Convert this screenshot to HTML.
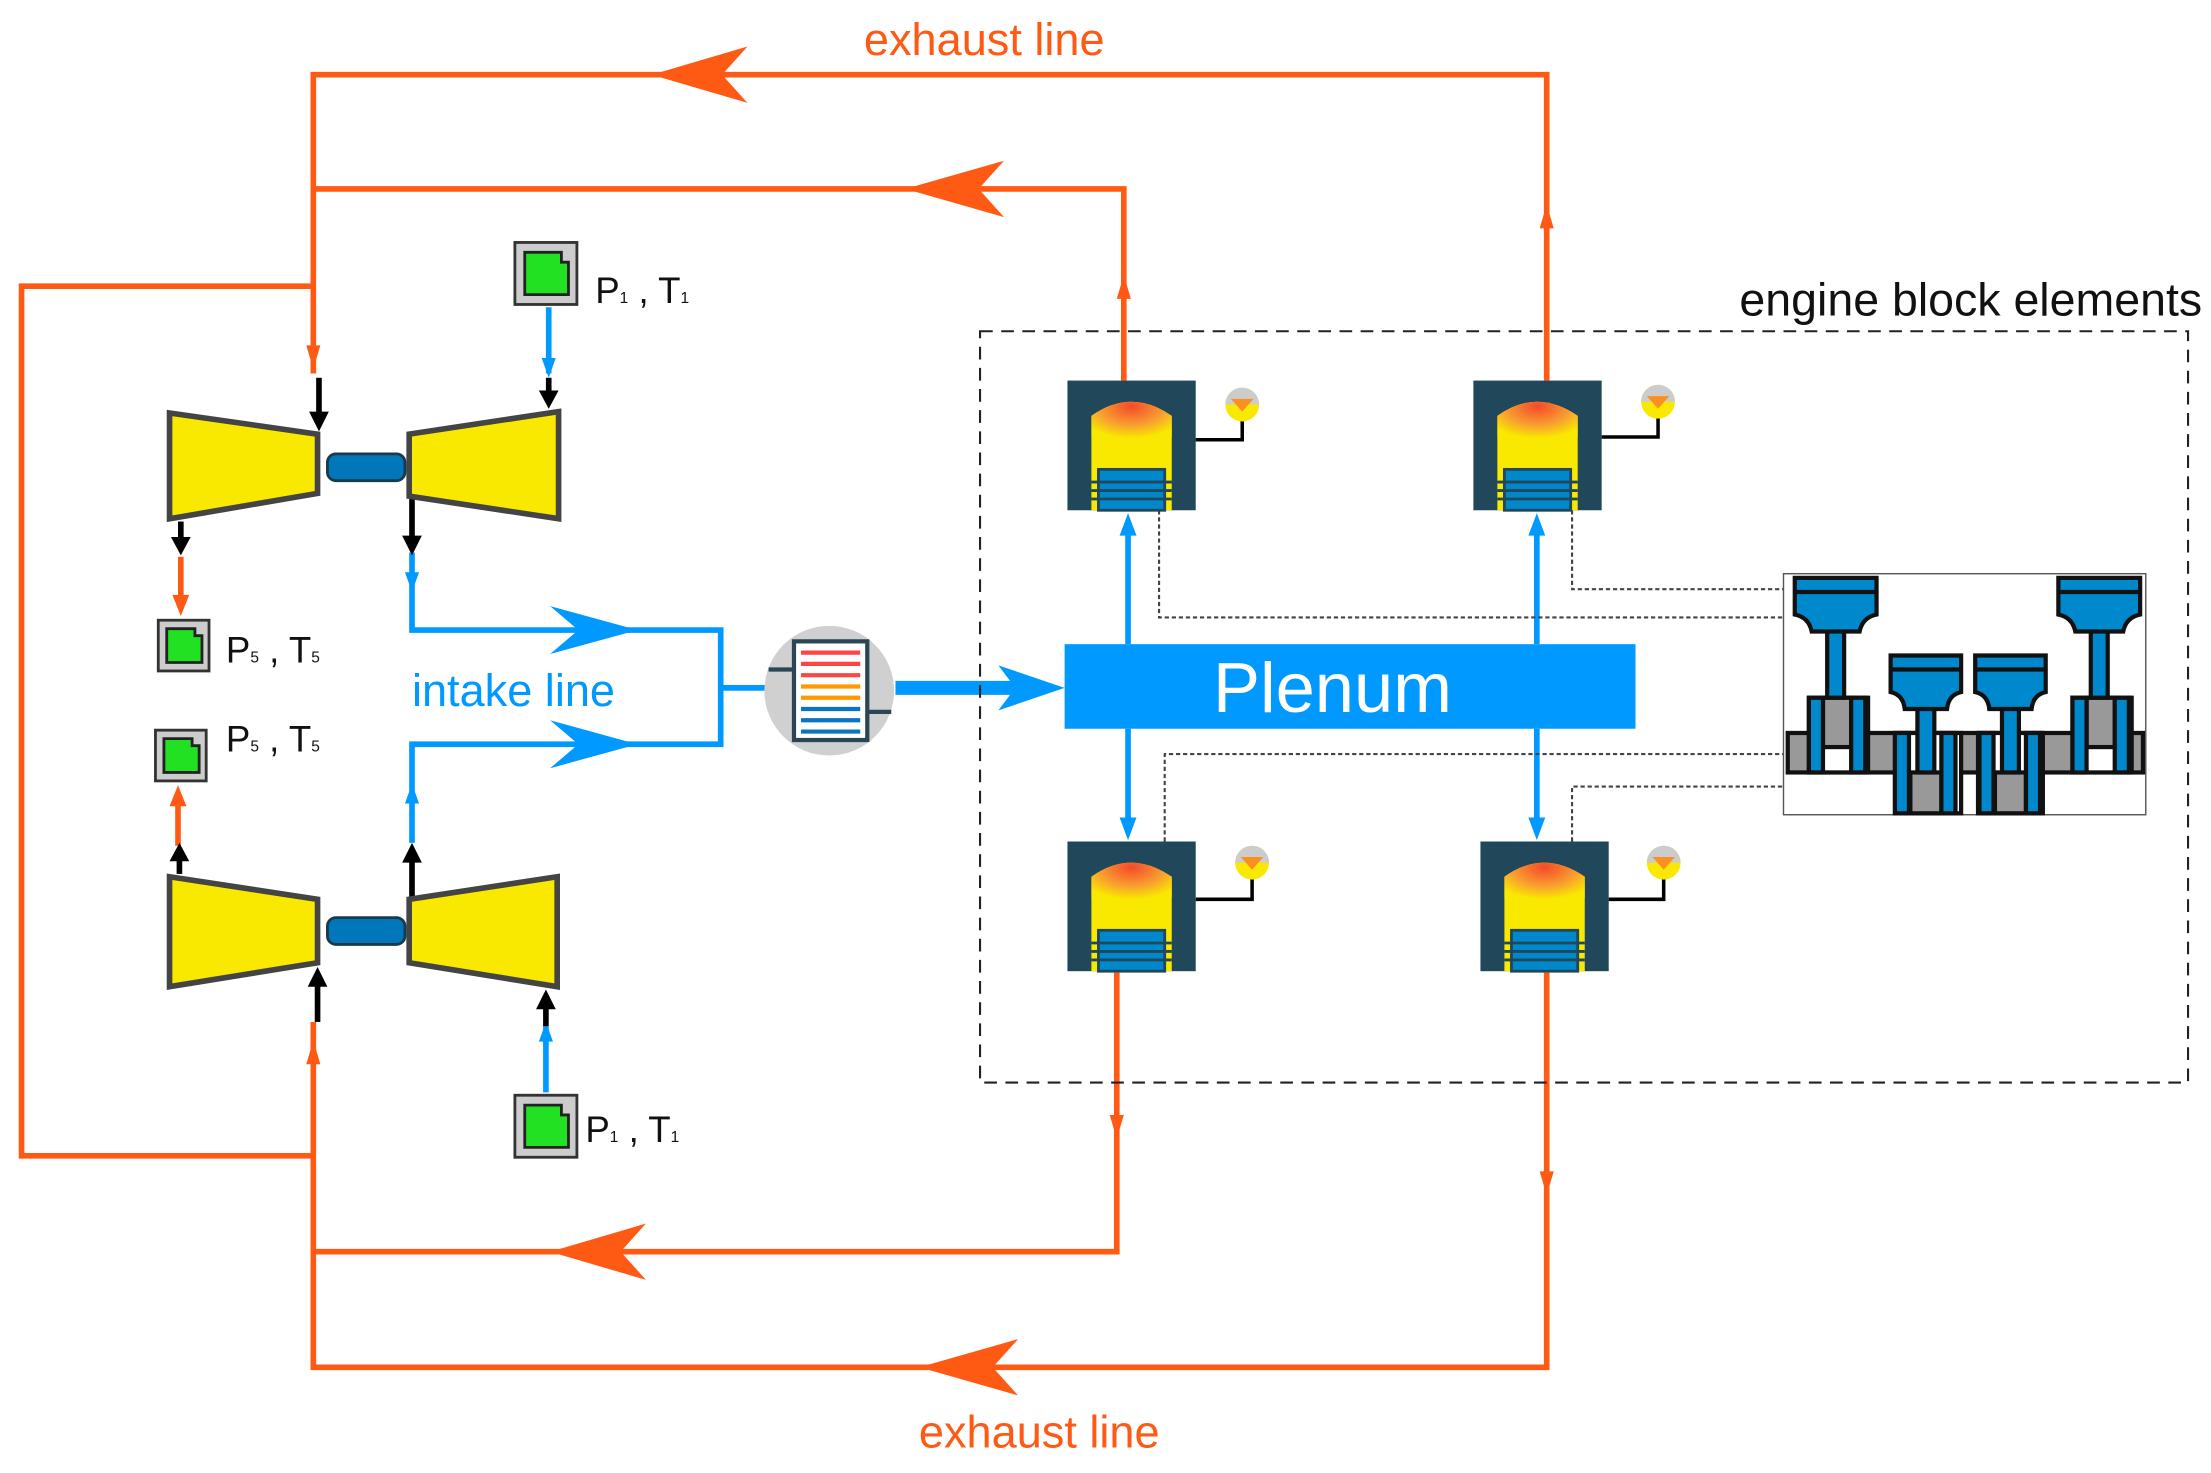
<!DOCTYPE html>
<html><head><meta charset="utf-8"><style>html,body{margin:0;padding:0;background:#fff}svg{display:block}</style></head><body>
<svg width="2211" height="1473" viewBox="0 0 1568 1045" xmlns="http://www.w3.org/2000/svg" font-family="Liberation Sans, sans-serif">
<defs>
<radialGradient id="fl" cx="0.5" cy="0.1" r="0.7"><stop offset="0" stop-color="#f44a2a"/><stop offset="0.6" stop-color="#f9a030"/><stop offset="1" stop-color="#f9e800"/></radialGradient>
<g id="cyl">
<rect x="0" y="0" width="91" height="92" fill="#21475a"/>
<path d="M17,25 Q45,5 74,25 L74,92 L17,92 Z" fill="#f9e800"/>
<path d="M17,25 Q45,5 74,25 L74,40 Q45,55 17,40 Z" fill="url(#fl)"/>
<rect x="22" y="63" width="47" height="29" fill="#0088cc" stroke="#21475a" stroke-width="2"/>
<line x1="17" y1="72" x2="74" y2="72" stroke="#21475a" stroke-width="2"/>
<line x1="17" y1="78" x2="74" y2="78" stroke="#21475a" stroke-width="2"/>
<line x1="17" y1="84" x2="74" y2="84" stroke="#21475a" stroke-width="2"/>
</g>
<g id="sens">
<circle cx="0" cy="0" r="12" fill="#f9e800"/>
<path d="M-12,0 A12,12 0 0 1 12,0 Z" fill="#ccc"/>
<path d="M-8,-4 L8,-4 L0,5 Z" fill="#f99020"/>
</g>
<g id="box">
<rect x="0" y="0" width="44" height="44" fill="#ccc" stroke="#333" stroke-width="2"/>
<path d="M7,7 L33,7 L33,14 L38,14 L38,37 L7,37 Z" fill="#22e022" stroke="#222" stroke-width="2"/>
</g>
<g id="sbox">
<rect x="0" y="0" width="36" height="36" fill="#ccc" stroke="#333" stroke-width="2"/>
<path d="M6,6 L26,6 L26,11 L31,11 L31,30 L6,30 Z" fill="#22e022" stroke="#222" stroke-width="2"/>
</g>
<g id="pist">
<path d="M0,0 L58,0 L58,26 Q48,28 46,38 L12,38 Q10,28 0,26 Z" fill="#0088cc" stroke="#111" stroke-width="3"/>
<line x1="0" y1="10" x2="58" y2="10" stroke="#111" stroke-width="3"/>
</g>
<g id="pist2">
<path d="M0,0 L50,0 L50,26 Q41,28 40,38 L10,38 Q9,28 0,26 Z" fill="#0088cc" stroke="#111" stroke-width="3"/>
<line x1="0" y1="10" x2="50" y2="10" stroke="#111" stroke-width="3"/>
</g>
</defs>

<!-- orange exhaust lines -->
<g stroke="#ff5a14" stroke-width="4" fill="none">
<polyline points="1097,270 1097,53 222,53 222,265"/>
<polyline points="797,270 797,134 222,134"/>
<polyline points="222,203 15,203 15,820 222,820"/>
<polyline points="222,725 222,970 1097,970 1097,690"/>
<polyline points="222,888 792,888 792,690"/>
<line x1="128" y1="395" x2="128" y2="430"/>
<line x1="126" y1="600" x2="126" y2="565"/>
</g>
<g fill="#ff5a14">
<path d="M462,53 L530,33 L512,53 L530,73 Z"/>
<path d="M642,134 L712,114 L694,134 L712,154 Z"/>
<path d="M390,888 L458,868 L440,888 L458,908 Z"/>
<path d="M652,970 L722,950 L704,970 L722,990 Z"/>
<path d="M1097,145 L1092,162 L1102,162 Z"/>
<path d="M797,195 L792,212 L802,212 Z"/>
<path d="M222,262 L217,245 L227,245 Z"/>
<path d="M222,738 L217,755 L227,755 Z"/>
<path d="M792,808 L787,791 L797,791 Z"/>
<path d="M1097,848 L1092,831 L1102,831 Z"/>
<path d="M128,437 L122,422 L134,422 Z"/>
<path d="M126,557 L120,572 L132,572 Z"/>
</g>
<text x="698" y="39" font-size="32" fill="#ff5a14" text-anchor="middle">exhaust line</text>
<text x="737" y="1027" font-size="32" fill="#ff5a14" text-anchor="middle">exhaust line</text>

<!-- blue intake -->
<g stroke="#0099ff" stroke-width="4" fill="none">
<polyline points="292,392 292,447 511,447 511,528 292,528 292,598"/>
<line x1="511" y1="488" x2="545" y2="488"/>
<line x1="389" y1="218" x2="389" y2="265"/>
<line x1="387" y1="775" x2="387" y2="728"/>
<line x1="800" y1="457" x2="800" y2="375"/>
<line x1="800" y1="517" x2="800" y2="585"/>
<line x1="1090" y1="457" x2="1090" y2="375"/>
<line x1="1090" y1="517" x2="1090" y2="585"/>
</g>
<line x1="635" y1="488" x2="725" y2="488" stroke="#0099ff" stroke-width="10"/>
<g fill="#0099ff">
<path d="M755,488 L708,472 L720,488 L708,504 Z"/>
<path d="M452,447 L390,430 L410,447 L390,464 Z"/>
<path d="M452,528 L390,511 L410,528 L390,545 Z"/>
<path d="M800,364 L794,380 L806,380 Z"/>
<path d="M800,596 L794,580 L806,580 Z"/>
<path d="M1090,364 L1084,380 L1096,380 Z"/>
<path d="M1090,596 L1084,580 L1096,580 Z"/>
<path d="M389,268 L384,254 L394,254 Z"/>
<path d="M387,725 L382,739 L392,739 Z"/>
<path d="M292,420 L287,406 L297,406 Z"/>
<path d="M292,556 L287,570 L297,570 Z"/>
</g>
<text x="364" y="501" font-size="32" fill="#0099ff" text-anchor="middle">intake line</text>

<!-- black arrows -->
<g stroke="#000" stroke-width="4">
<line x1="226" y1="268" x2="226" y2="295"/>
<line x1="389" y1="268" x2="389" y2="280"/>
<line x1="128" y1="370" x2="128" y2="383"/>
<line x1="292" y1="352" x2="292" y2="382"/>
<line x1="127" y1="620" x2="127" y2="608"/>
<line x1="292" y1="638" x2="292" y2="610"/>
<line x1="225" y1="725" x2="225" y2="698"/>
<line x1="387" y1="728" x2="387" y2="715"/>
</g>
<g fill="#000">
<path d="M226,306 L219,292 L233,292 Z"/>
<path d="M389,290 L382,277 L396,277 Z"/>
<path d="M128,394 L121,381 L135,381 Z"/>
<path d="M292,394 L285,380 L299,380 Z"/>
<path d="M127,598 L120,611 L134,611 Z"/>
<path d="M292,598 L285,612 L299,612 Z"/>
<path d="M225,686 L218,700 L232,700 Z"/>
<path d="M387,702 L380,716 L394,716 Z"/>
</g>

<!-- turbochargers -->
<g fill="#f9e800" stroke="#444" stroke-width="4">
<path d="M120,293 L225,308 L225,350 L120,368 Z"/>
<path d="M290,308 L396,292 L396,368 L290,352 Z"/>
<path d="M120,622 L225,638 L225,683 L120,700 Z"/>
<path d="M290,638 L395,622 L395,700 L290,683 Z"/>
</g>
<g fill="#0077bb" stroke="#1a3a4a" stroke-width="2">
<rect x="232" y="322" width="55" height="19" rx="6"/>
<rect x="232" y="651" width="55" height="19" rx="6"/>
</g>

<!-- sensor boxes -->
<use href="#box" x="365" y="172"/>
<use href="#box" x="365" y="777"/>
<use href="#sbox" x="112" y="440"/>
<use href="#sbox" x="110" y="518"/>
<g font-size="26" fill="#111">
<text x="422" y="215">P<tspan font-size="11">1</tspan> , T<tspan font-size="11">1</tspan></text>
<text x="415" y="810">P<tspan font-size="11">1</tspan> , T<tspan font-size="11">1</tspan></text>
<text x="160" y="470">P<tspan font-size="11">5</tspan> , T<tspan font-size="11">5</tspan></text>
<text x="160" y="533">P<tspan font-size="11">5</tspan> , T<tspan font-size="11">5</tspan></text>
</g>

<!-- cooler -->
<circle cx="588" cy="490" r="46" fill="#d0d0d0"/>
<rect x="563" y="455" width="52" height="70" fill="#fff" stroke="#2a4555" stroke-width="3"/>
<g stroke-width="3">
<line x1="568" y1="463" x2="610" y2="463" stroke="#f44"/>
<line x1="568" y1="471" x2="610" y2="471" stroke="#f44"/>
<line x1="568" y1="479" x2="610" y2="479" stroke="#f44"/>
<line x1="568" y1="487" x2="610" y2="487" stroke="#f90"/>
<line x1="568" y1="495" x2="610" y2="495" stroke="#f90"/>
<line x1="568" y1="503" x2="610" y2="503" stroke="#0a74c0"/>
<line x1="568" y1="511" x2="610" y2="511" stroke="#0a74c0"/>
<line x1="568" y1="519" x2="610" y2="519" stroke="#0a74c0"/>
</g>
<polyline points="545,475 563,475" stroke="#2a4555" stroke-width="3"/>
<polyline points="615,505 632,505" stroke="#2a4555" stroke-width="3"/>

<!-- dashed box -->
<rect x="695" y="235" width="857" height="533" fill="none" stroke="#222" stroke-width="1.5" stroke-dasharray="9,6"/>
<text x="1562" y="224" font-size="33" fill="#111" text-anchor="end">engine block elements</text>

<!-- dotted links -->
<g stroke="#444" stroke-width="1.5" fill="none" stroke-dasharray="3,2">
<polyline points="822,362 822,438 1265,438"/>
<polyline points="1115,362 1115,418 1265,418"/>
<polyline points="826,597 826,535 1265,535"/>
<polyline points="1115,597 1115,558 1265,558"/>
</g>

<!-- plenum -->
<rect x="755" y="457" width="405" height="60" fill="#0099ff"/>
<text x="945" y="505" font-size="50" fill="#fff" text-anchor="middle">Plenum</text>

<!-- cylinders -->
<use href="#cyl" x="757" y="270"/>
<use href="#cyl" x="1045" y="270"/>
<use href="#cyl" x="757" y="597"/>
<use href="#cyl" x="1050" y="597"/>
<g stroke="#000" stroke-width="2.5" fill="none">
<polyline points="848,312 881,312 881,297"/>
<polyline points="1136,310 1176,310 1176,295"/>
<polyline points="848,638 888,638 888,622"/>
<polyline points="1141,638 1180,638 1180,622"/>
</g>
<use href="#sens" x="881" y="287"/>
<use href="#sens" x="1176" y="285"/>
<use href="#sens" x="888" y="612"/>
<use href="#sens" x="1180" y="612"/>

<!-- crankshaft -->
<rect x="1265" y="407" width="257" height="171" fill="#fff" stroke="#555" stroke-width="1"/>
<g stroke="#111" stroke-width="3">
<rect x="1268" y="520" width="252" height="28" fill="#999"/>
<rect x="1283" y="495" width="42" height="53" fill="#fff"/>
<rect x="1293" y="495" width="20" height="35" fill="#999"/>
<rect x="1470" y="495" width="42" height="53" fill="#fff"/>
<rect x="1480" y="495" width="20" height="35" fill="#999"/>
<rect x="1345" y="520" width="46" height="57" fill="#fff"/>
<rect x="1355" y="548" width="22" height="29" fill="#999"/>
<rect x="1403" y="520" width="46" height="57" fill="#fff"/>
<rect x="1415" y="548" width="22" height="29" fill="#999"/>
<g fill="#0088cc">
<rect x="1283" y="495" width="10" height="53"/><rect x="1313" y="495" width="10" height="53"/>
<rect x="1470" y="495" width="10" height="53"/><rect x="1500" y="495" width="10" height="53"/>
<rect x="1344" y="520" width="10" height="57"/><rect x="1377" y="520" width="10" height="57"/>
<rect x="1404" y="520" width="10" height="57"/><rect x="1437" y="520" width="10" height="57"/>
<rect x="1296" y="445" width="12" height="50"/>
<rect x="1483" y="445" width="12" height="50"/>
<rect x="1360" y="500" width="12" height="48"/>
<rect x="1420" y="500" width="12" height="48"/>
</g>
</g>
<use href="#pist" x="1273" y="410"/>
<use href="#pist" x="1460" y="410"/>
<use href="#pist2" x="1341" y="465"/>
<use href="#pist2" x="1401" y="465"/>
</svg>
</body></html>
